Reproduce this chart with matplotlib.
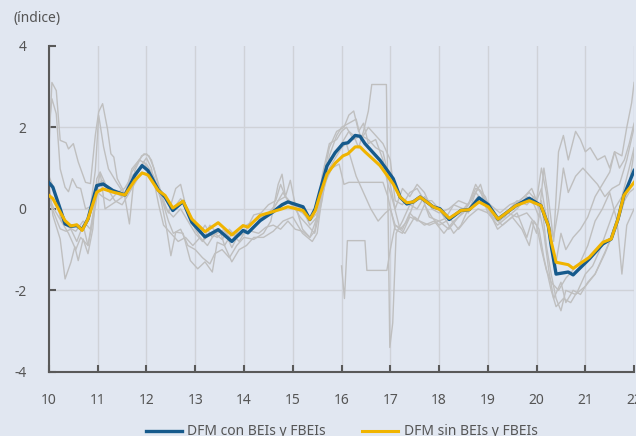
import numpy as np
import matplotlib
matplotlib.use('Agg')
import matplotlib.pyplot as plt

plt.rcParams['font.family'] = ['Noto Sans', 'DejaVu Sans']

# fechas en años (10 = 2010), índice normalizado
dfm_t = [10.00, 10.08, 10.23, 10.33, 10.45, 10.57, 10.68, 10.80, 10.98, 11.11, 11.31, 11.56,
         11.76, 11.91, 12.03, 12.24, 12.38, 12.54, 12.75, 12.93, 13.20, 13.47, 13.75, 13.98,
         14.08, 14.33, 14.59, 14.78, 14.90, 15.21, 15.35, 15.46, 15.56, 15.70, 15.87, 16.03,
         16.13, 16.28, 16.38, 16.48, 16.79, 17.06, 17.20, 17.34, 17.47, 17.61, 17.88, 18.02,
         18.21, 18.45, 18.62, 18.82, 19.01, 19.21, 19.58, 19.85, 20.09, 20.24, 20.30, 20.40,
         20.65, 20.75, 21.08, 21.36, 21.53, 21.67, 21.79, 22.00]
dfm_con = [0.64, 0.53, 0.00, -0.37, -0.43, -0.41, -0.51, -0.25, 0.57, 0.61, 0.45, 0.34,
           0.82, 1.06, 0.94, 0.47, 0.29, -0.04, 0.18, -0.33, -0.69, -0.51, -0.80, -0.53,
           -0.59, -0.29, -0.08, 0.10, 0.17, 0.05, -0.26, 0.00, 0.45, 1.05, 1.38, 1.60,
           1.62, 1.80, 1.78, 1.60, 1.19, 0.74, 0.29, 0.12, 0.17, 0.29, 0.05, 0.00,
           -0.26, -0.04, -0.02, 0.27, 0.10, -0.25, 0.08, 0.26, 0.08, -0.41, -0.90, -1.60,
           -1.55, -1.62, -1.23, -0.86, -0.74, -0.25, 0.33, 0.94]
dfm_sin = [0.33, 0.25, -0.08, -0.29, -0.42, -0.39, -0.53, -0.25, 0.41, 0.49, 0.41, 0.34,
           0.70, 0.88, 0.83, 0.45, 0.33, 0.02, 0.19, -0.25, -0.56, -0.34, -0.64, -0.41,
           -0.45, -0.16, -0.07, 0.00, 0.05, -0.04, -0.26, -0.05, 0.35, 0.85, 1.12, 1.30,
           1.35, 1.52, 1.52, 1.40, 1.06, 0.61, 0.29, 0.15, 0.17, 0.29, 0.05, -0.02,
           -0.23, -0.04, -0.02, 0.17, 0.05, -0.25, 0.08, 0.20, 0.08, -0.41, -0.80, -1.31,
           -1.37, -1.46, -1.19, -0.82, -0.74, -0.25, 0.33, 0.65]

# indicadores individuales (fecha, valor)
ind_1 = np.array([
    [10.0, 1.5], [10.06, 3.1], [10.15, 2.9], [10.23, 1.68], [10.35, 1.62], [10.4, 1.47],
    [10.5, 1.6], [10.6, 1.15], [10.75, 0.65], [10.85, 0.62], [10.95, 1.8], [11.02, 2.38],
    [11.1, 2.58], [11.2, 1.96], [11.27, 1.35], [11.33, 1.27], [11.4, 0.74], [11.56, 0.37],
    [11.7, 0.9], [11.85, 1.2], [11.95, 1.35], [12.05, 1.3], [12.15, 1.0], [12.3, 0.3],
    [12.45, -0.3], [12.55, -0.6], [12.7, -0.5], [12.85, -0.9], [13.0, -1.0], [13.15, -1.2],
    [13.3, -1.35], [13.4, -1.1], [13.55, -1.0], [13.7, -1.2], [13.85, -0.9], [14.0, -0.7],
    [14.2, -0.75], [14.4, -0.6], [14.55, -0.3], [14.7, 0.6], [14.78, 0.85], [14.85, 0.3],
    [14.95, 0.7], [15.05, 0.1], [15.2, -0.5], [15.35, -0.7], [15.45, -0.55], [15.6, 0.6],
    [15.75, 1.5], [15.9, 1.9], [16.05, 2.0], [16.15, 2.3], [16.25, 2.4], [16.35, 1.9],
    [16.45, 2.1], [16.55, 1.6], [16.7, 1.7], [16.85, 1.2], [16.95, 0.6], [17.05, 0.2],
    [17.2, -0.5], [17.35, -0.3], [17.5, 0.2], [17.65, 0.3], [17.8, -0.2], [18.0, -0.3],
    [18.2, -0.5], [18.4, -0.2], [18.6, 0.1], [18.75, 0.5], [18.85, 0.45], [19.0, -0.1],
    [19.2, -0.4], [19.4, -0.2], [19.6, 0.0], [19.8, 0.3], [19.95, 0.1], [20.05, -0.2],
    [20.15, 1.0], [20.25, 0.2], [20.35, -0.8], [20.45, 1.4], [20.55, 1.8], [20.65, 1.2],
    [20.8, 1.9], [20.9, 1.7], [21.0, 1.4], [21.1, 1.5], [21.25, 1.2], [21.4, 1.3],
    [21.5, 1.0], [21.6, 1.4], [21.75, 1.3], [21.85, 2.0], [21.95, 2.6], [22.0, 3.1]])

ind_2 = np.array([
    [10.0, 2.0], [10.06, 2.7], [10.15, 2.33], [10.23, 0.98], [10.33, 0.53], [10.4, 0.42],
    [10.48, 0.74], [10.57, 0.53], [10.65, 0.5], [10.75, 0.0], [10.85, 0.05], [10.95, 0.94],
    [11.02, 2.29], [11.12, 1.52], [11.22, 0.98], [11.38, 0.66], [11.56, 0.33], [11.7, 0.98],
    [11.85, 1.2], [12.0, 1.1], [12.15, 0.8], [12.3, 0.2], [12.4, -0.4], [12.5, -1.15],
    [12.6, -0.57], [12.75, -0.6], [12.9, -1.27], [13.05, -1.47], [13.2, -1.3], [13.35, -1.55],
    [13.45, -0.82], [13.6, -0.9], [13.75, -1.3], [13.9, -1.0], [14.05, -0.9], [14.2, -0.7],
    [14.4, -0.7], [14.6, -0.55], [14.8, -0.3], [15.0, -0.2], [15.2, -0.6], [15.4, -0.8],
    [15.5, -0.6], [15.6, 0.3], [15.75, 1.0], [15.9, 1.3], [16.0, 1.5], [16.1, 1.6],
    [16.2, 1.2], [16.3, 0.8], [16.45, 0.4], [16.6, 0.0], [16.75, -0.3], [16.9, -0.1],
    [17.0, 0.0], [17.1, -0.4], [17.3, -0.6], [17.5, -0.2], [17.7, -0.4], [17.9, -0.3],
    [18.1, -0.6], [18.3, -0.3], [18.5, -0.1], [18.7, 0.3], [18.85, 0.6], [19.0, 0.0],
    [19.2, -0.5], [19.4, -0.3], [19.6, -0.1], [19.8, -0.7], [19.9, -0.3], [20.0, -0.6],
    [20.1, 0.2], [20.2, -0.9], [20.3, -1.6], [20.4, -2.2], [20.5, -2.5], [20.6, -2.0],
    [20.8, -2.1], [21.0, -1.9], [21.2, -1.6], [21.4, -1.1], [21.6, -0.5], [21.75, 0.0],
    [21.9, 0.6], [22.0, 1.4]])

ind_3 = np.array([
    [10.0, 0.6], [10.08, -0.16], [10.23, -0.74], [10.33, -1.72], [10.45, -1.31], [10.53, -0.93],
    [10.6, -1.27], [10.7, -0.74], [10.8, -1.1], [10.9, -0.49], [10.98, 0.74], [11.05, 0.9],
    [11.15, 0.0], [11.25, 0.08], [11.4, 0.2], [11.55, 0.33], [11.65, -0.37], [11.76, 0.94],
    [11.9, 1.3], [12.0, 1.35], [12.1, 1.2], [12.25, 0.6], [12.4, 0.0], [12.55, -0.2],
    [12.7, 0.0], [12.85, -0.3], [13.0, -0.6], [13.15, -0.8], [13.3, -0.4], [13.45, -0.6],
    [13.6, -0.5], [13.75, -0.8], [13.9, -0.5], [14.05, -0.4], [14.2, -0.3], [14.4, -0.2],
    [14.55, -0.1], [14.7, 0.2], [14.85, 0.3], [15.0, 0.1], [15.2, 0.0], [15.35, -0.4],
    [15.5, -0.2], [15.6, 0.8], [15.75, 1.6], [15.9, 1.7], [16.0, 1.9], [16.1, 2.0],
    [16.25, 1.7], [16.4, 1.8], [16.55, 1.7], [16.7, 1.5], [16.85, 1.4], [17.0, 0.6],
    [17.1, 0.0], [17.25, 0.5], [17.4, 0.3], [17.55, 0.6], [17.7, 0.4], [17.85, 0.0],
    [18.0, -0.1], [18.2, 0.0], [18.4, 0.2], [18.6, 0.1], [18.75, 0.6], [18.9, 0.3],
    [19.05, 0.1], [19.25, -0.1], [19.45, 0.1], [19.65, 0.2], [19.85, 0.4], [20.0, 0.2],
    [20.1, 0.5], [20.2, -0.2], [20.35, -0.7], [20.45, 0.0], [20.55, 1.0], [20.65, 0.4],
    [20.8, 0.8], [20.95, 1.0], [21.1, 0.8], [21.25, 0.6], [21.4, 0.3], [21.55, 0.5],
    [21.7, 0.6], [21.85, 1.2], [22.0, 2.0]])

ind_4 = np.array([
    [10.0, 0.2], [10.1, -0.1], [10.23, -0.49], [10.35, -0.55], [10.45, -0.5], [10.57, -0.8],
    [10.7, -0.4], [10.8, -0.9], [10.9, -0.3], [11.0, 0.4], [11.1, 0.3], [11.25, 0.2],
    [11.4, 0.4], [11.55, 0.5], [11.7, 0.8], [11.85, 1.0], [12.0, 1.25], [12.1, 1.0],
    [12.25, 0.1], [12.35, -0.4], [12.5, -0.6], [12.65, -0.8], [12.8, -0.7], [12.95, -0.9],
    [13.1, -0.7], [13.25, -0.9], [13.4, -0.6], [13.55, -0.75], [13.7, -0.5], [13.85, -0.7],
    [14.0, -0.6], [14.15, -0.55], [14.3, -0.6], [14.45, -0.45], [14.6, -0.4], [14.75, -0.5],
    [14.9, -0.3], [15.05, -0.5], [15.2, -0.55], [15.35, -0.7], [15.5, -0.2], [15.65, 0.6],
    [15.8, 1.0], [15.95, 1.1], [16.05, 0.6], [16.15, 0.65], [16.85, 0.65], [16.95, 0.3],
    [17.1, -0.5], [17.25, -0.6], [17.4, -0.2], [17.6, -0.3], [17.8, -0.4], [18.0, -0.3],
    [18.2, -0.2], [18.4, -0.5], [18.6, -0.2], [18.8, 0.0], [19.0, -0.1], [19.2, -0.3],
    [19.4, -0.1], [19.6, -0.2], [19.8, -0.1], [20.0, -0.4], [20.1, -1.0], [20.2, -1.5],
    [20.3, -1.8], [20.45, -2.0], [20.6, -1.7], [20.75, -1.5], [20.9, -1.3], [21.05, -0.9],
    [21.2, -0.3], [21.35, 0.0], [21.5, 0.4], [21.65, -0.3], [21.75, -1.6], [21.85, -0.4],
    [22.0, 0.0]])

ind_5 = np.array([
    [10.0, 0.3], [10.1, 0.0], [10.25, -0.3], [10.4, -0.6], [10.55, -1.0], [10.65, -0.7],
    [10.8, -0.9], [10.9, -0.2], [11.0, 0.6], [11.1, 0.7], [11.2, 0.5], [11.35, 0.2],
    [11.5, 0.1], [11.6, 0.3], [11.75, 0.6], [11.9, 0.9], [12.05, 0.85], [12.2, 0.5],
    [12.35, 0.2], [12.45, -0.1], [12.6, 0.5], [12.7, 0.6], [12.8, 0.1], [12.95, -0.4],
    [13.1, -0.6], [13.2, -0.4], [13.35, -0.7], [13.5, -0.5], [13.6, -0.9], [13.75, -0.6],
    [13.9, -0.8], [14.05, -0.5], [14.2, -0.3], [14.35, -0.2], [14.5, -0.1], [14.65, 0.1],
    [14.8, 0.4], [14.9, 0.2], [15.05, 0.0], [15.2, -0.1], [15.35, -0.3], [15.5, -0.1],
    [15.6, 0.5], [15.75, 1.2], [15.9, 1.4], [16.05, 1.7], [16.15, 1.9], [16.25, 1.8],
    [16.35, 1.5], [16.45, 1.9], [16.55, 2.4], [16.62, 3.05], [16.92, 3.05], [16.99, -3.4],
    [17.05, -2.8], [17.12, -0.6], [17.25, -0.3], [17.4, 0.1], [17.55, 0.0], [17.7, 0.3],
    [17.85, 0.1], [18.0, 0.0], [18.15, -0.2], [18.3, 0.1], [18.5, 0.0], [18.65, 0.2],
    [18.8, 0.5], [18.95, 0.3], [19.1, -0.2], [19.25, -0.3], [19.45, 0.0], [19.6, 0.2],
    [19.8, 0.1], [19.95, 0.3], [20.05, 0.0], [20.15, -0.6], [20.25, -1.5], [20.35, -2.2],
    [20.5, -1.8], [20.6, -2.3], [20.75, -2.0], [20.9, -2.1], [21.05, -1.8], [21.2, -1.6],
    [21.35, -1.2], [21.5, -0.8], [21.65, -0.4], [21.8, 0.2], [21.9, 0.4], [22.0, 0.5]])

# esta serie empieza en 2016
ind_6 = np.array([
    [16.0, -1.4], [16.06, -2.2], [16.12, -0.78], [16.48, -0.78], [16.52, -1.51], [16.93, -1.51],
    [17.0, -1.0], [17.1, -0.4], [17.25, -0.5], [17.4, -0.1], [17.55, -0.3], [17.7, 0.1],
    [17.85, -0.2], [18.0, -0.4], [18.15, -0.3], [18.3, -0.6], [18.45, -0.4], [18.6, 0.0],
    [18.8, 0.3], [18.95, 0.1], [19.1, -0.2], [19.3, -0.4], [19.5, -0.2], [19.7, -0.5],
    [19.85, -0.9], [19.95, -0.3], [20.05, -0.5], [20.15, -1.2], [20.3, -2.0], [20.4, -2.4],
    [20.55, -2.2], [20.7, -2.3], [20.85, -2.0], [21.0, -1.6], [21.15, -1.4], [21.3, -1.0],
    [21.45, -0.5], [21.6, 0.0], [21.75, 0.3], [21.9, 1.0], [22.0, 1.5]])

ind_7 = np.array([
    [10.0, 0.8], [10.1, 0.5], [10.25, -0.3], [10.4, -0.45], [10.55, -0.55], [10.7, -0.3],
    [10.85, -0.5], [10.95, 0.2], [11.05, 0.9], [11.2, 0.5], [11.35, 0.4], [11.5, 0.3],
    [11.65, 0.5], [11.8, 0.9], [11.95, 1.15], [12.1, 0.8], [12.25, 0.5], [12.4, 0.3],
    [12.55, 0.0], [12.7, 0.25], [12.85, 0.0], [13.0, -0.5], [13.15, -0.8], [13.3, -0.6],
    [13.45, -0.7], [13.6, -0.55], [13.75, -0.95], [13.9, -0.6], [14.05, -0.5], [14.2, -0.15],
    [14.35, -0.1], [14.5, 0.1], [14.65, 0.2], [14.75, 0.6], [14.85, 0.3], [15.0, 0.1],
    [15.15, -0.2], [15.3, -0.4], [15.45, -0.6], [15.6, 0.2], [15.75, 1.3], [15.9, 1.8],
    [16.0, 2.0], [16.15, 2.1], [16.3, 2.2], [16.4, 1.7], [16.55, 2.0], [16.7, 1.8],
    [16.85, 1.6], [17.0, 1.2], [17.1, 0.2], [17.25, 0.1], [17.4, 0.4], [17.55, 0.5],
    [17.7, 0.2], [17.85, 0.2], [18.0, 0.0], [18.15, -0.3], [18.3, -0.2], [18.45, 0.0],
    [18.6, -0.1], [18.75, 0.4], [18.9, 0.2], [19.05, 0.0], [19.2, -0.3], [19.35, -0.2],
    [19.55, 0.1], [19.75, 0.3], [19.9, 0.5], [20.0, 0.2], [20.1, 1.0], [20.2, 0.4],
    [20.3, -1.0], [20.4, -1.3], [20.5, -0.6], [20.6, -1.0], [20.75, -0.7], [20.9, -0.5],
    [21.05, -0.2], [21.2, 0.3], [21.35, 0.6], [21.5, 0.9], [21.6, 1.4], [21.7, 1.0],
    [21.8, 1.2], [21.9, 1.6], [22.0, 2.1]])

indicadores = [ind_1, ind_2, ind_3, ind_4, ind_5, ind_6, ind_7]

x_ticks = list(range(10, 23))
y_ticks = [-4, -2, 0, 2, 4]

bg = '#e1e7f1'
axis_col = '#595959'
text_col = '#555555'

fig = plt.figure(figsize=(6.36, 4.36), dpi=100, facecolor=bg)
ax = fig.add_axes([0.077, 0.147, 0.920, 0.748], facecolor=bg)

for ind in indicadores:
    ax.plot(ind[:, 0], ind[:, 1], color='#bfbfbf', lw=1.0, zorder=2)

l1, = ax.plot(dfm_t, dfm_con, color='#165a8c', lw=2.4, zorder=4,
              solid_joinstyle='round', label='DFM con BEIs y FBEIs')
l2, = ax.plot(dfm_t, dfm_sin, color='#f0b400', lw=2.2, zorder=5,
              solid_joinstyle='round', label='DFM sin BEIs y FBEIs')

ax.set_xlim(10, 22)
ax.set_ylim(-4, 4)
ax.set_xticks(x_ticks)
ax.set_yticks(y_ticks)
ax.set_xticklabels([str(x) for x in x_ticks])
ax.set_yticklabels([str(y) for y in y_ticks])

ax.grid(True, color='#cfd2d8', lw=1.0, zorder=1)
ax.get_ygridlines()[-1].set_visible(False)
ax.get_ygridlines()[0].set_visible(False)

for s in ['top', 'right']:
    ax.spines[s].set_visible(False)
for s in ['left', 'bottom']:
    ax.spines[s].set_color(axis_col)
    ax.spines[s].set_linewidth(1.5)

ax.tick_params(axis='both', direction='in', length=5, width=1.5, color=axis_col,
               labelcolor=text_col, labelsize=10)
ax.tick_params(axis='x', pad=15)
ax.tick_params(axis='y', pad=16)

fig.text(0.022, 0.958, '(índice)', fontsize=10, color=text_col, va='center', ha='left')

ax.legend(handles=[l1, l2], loc='center', bbox_to_anchor=(0.5, -0.184), ncol=2,
          frameon=False, fontsize=10, handlelength=2.6, handletextpad=0.4,
          columnspacing=2.6, labelcolor=text_col)

fig.savefig('out.png', dpi=100, facecolor=bg)
